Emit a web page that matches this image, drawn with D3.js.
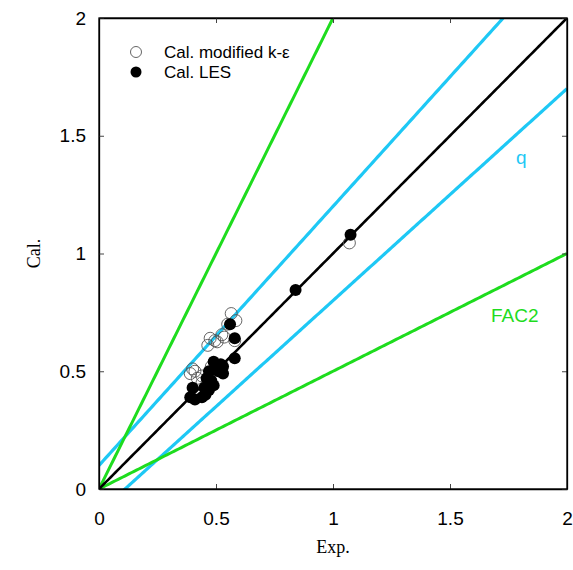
<!DOCTYPE html>
<html><head><meta charset="utf-8">
<script src="https://cdn.jsdelivr.net/npm/d3@7"></script>
<style>body{margin:0;background:#fff}</style>
</head><body>
<svg id="c" width="573" height="570"></svg>
<script>
const xTicks = [0, 0.5, 1, 1.5, 2];
const yTicks = [0, 0.5, 1, 1.5, 2];
const tickLabels = ["0", "0.5", "1", "1.5", "2"];
// Cal. modified k-ε (open circles): [Exp, Cal]
const kepsExp = [1.07, 0.565, 0.585, 0.55, 0.475, 0.505, 0.525, 0.535, 0.465, 0.495, 0.40, 0.39, 0.41, 0.42, 0.44, 0.58, 0.44, 0.48];
const kepsCal = [1.045, 0.745, 0.715, 0.70, 0.64, 0.625, 0.655, 0.645, 0.61, 0.63, 0.51, 0.49, 0.50, 0.47, 0.45, 0.63, 0.48, 0.52];
// Cal. LES (filled circles)
const lesExp = [1.075, 0.84, 0.56, 0.58, 0.58, 0.53, 0.53, 0.49, 0.50, 0.47, 0.46, 0.48, 0.49, 0.45, 0.44, 0.40, 0.39, 0.41, 0.51, 0.47, 0.455, 0.52];
const lesCal = [1.08, 0.845, 0.70, 0.64, 0.555, 0.52, 0.49, 0.54, 0.52, 0.50, 0.47, 0.46, 0.44, 0.43, 0.39, 0.43, 0.39, 0.38, 0.50, 0.42, 0.40, 0.53];
// reference lines: slope, intercept
const refLines = [
  {name: "q+", slope: 1.1, icpt: 0.1, color: "#1ec8f5", w: 3.2},
  {name: "q-", slope: 0.9, icpt: -0.1, color: "#1ec8f5", w: 3.2},
  {name: "FAC2+", slope: 2, icpt: 0, color: "#1edc1e", w: 3},
  {name: "FAC2-", slope: 0.5, icpt: 0, color: "#1edc1e", w: 3},
  {name: "1:1", slope: 1, icpt: 0, color: "#000", w: 2.6}
];

const svg = d3.select("#c");
const L = 99, R = 567, T = 18, B = 489;
const x = d3.scaleLinear().domain([0, 2]).range([L, R]);
const y = d3.scaleLinear().domain([0, 2]).range([B, T]);

svg.append("defs").append("clipPath").attr("id", "pa")
  .append("rect").attr("x", L).attr("y", T).attr("width", R - L).attr("height", B - T);

const g = svg.append("g").attr("clip-path", "url(#pa)");
const xs = d3.range(0, 2.0001, 0.01);
refLines.forEach(l => {
  g.append("path")
    .attr("d", d3.line().x(d => x(d)).y(d => y(l.slope * d + l.icpt))(xs))
    .attr("fill", "none").attr("stroke", l.color).attr("stroke-width", l.w);
});

const r = 6;
kepsExp.forEach((e, i) => {
  g.append("circle").attr("cx", x(e)).attr("cy", y(kepsCal[i])).attr("r", r)
    .attr("fill", "none").attr("stroke", "#555").attr("stroke-width", 0.9);
});
lesExp.forEach((e, i) => {
  g.append("circle").attr("cx", x(e)).attr("cy", y(lesCal[i])).attr("r", r)
    .attr("fill", "#000");
});

// axes with inward ticks
const tl = 5;
svg.append("g").attr("transform", `translate(0,${B})`)
  .call(d3.axisBottom(x).tickValues(xTicks).tickSizeInner(-tl).tickSizeOuter(0).tickFormat((d, i) => tickLabels[i]).tickPadding(23))
  .call(a => a.selectAll("text").attr("font-family", "Liberation Sans, Arial, sans-serif").attr("font-size", 19).attr("fill", "#000"));
svg.append("g").attr("transform", `translate(0,${T})`)
  .call(d3.axisTop(x).tickValues(xTicks).tickSizeInner(-tl).tickSizeOuter(0).tickFormat(""));
svg.append("g").attr("transform", `translate(${L},0)`)
  .call(d3.axisLeft(y).tickValues(yTicks).tickSizeInner(-tl).tickSizeOuter(0).tickFormat((d, i) => tickLabels[i]).tickPadding(13))
  .call(a => a.selectAll("text").attr("font-family", "Liberation Sans, Arial, sans-serif").attr("font-size", 19).attr("fill", "#000"));
svg.append("g").attr("transform", `translate(${R},0)`)
  .call(d3.axisRight(y).tickValues(yTicks).tickSizeInner(-tl).tickSizeOuter(0).tickFormat(""));
svg.selectAll(".domain").attr("stroke", "#000").attr("stroke-width", 1.3);
svg.selectAll(".tick line").attr("stroke", "#444");
svg.append("rect").attr("x", L).attr("y", T).attr("width", R - L).attr("height", B - T)
  .attr("fill", "none").attr("stroke", "#000").attr("stroke-width", 1.3);

// axis titles
svg.append("text").attr("x", (L + R) / 2).attr("y", 553).attr("text-anchor", "middle")
  .attr("font-family", "Liberation Serif, Times New Roman, serif").attr("font-size", 18).text("Exp.");
svg.append("text").attr("transform", `translate(40,${(T + B) / 2}) rotate(-90)`).attr("text-anchor", "middle")
  .attr("font-family", "Liberation Serif, Times New Roman, serif").attr("font-size", 18).text("Cal.");

// line labels
svg.append("text").attr("x", 516).attr("y", 164).attr("font-family", "Liberation Sans, Arial, sans-serif")
  .attr("font-size", 19).attr("fill", "#1ec8f5").text("q");
svg.append("text").attr("x", 491).attr("y", 322).attr("font-family", "Liberation Sans, Arial, sans-serif")
  .attr("font-size", 19).attr("fill", "#1edc1e").text("FAC2");

// legend
const leg = svg.append("g");
leg.append("circle").attr("cx", 136).attr("cy", 52).attr("r", 5.5).attr("fill", "none").attr("stroke", "#555").attr("stroke-width", 0.9);
leg.append("circle").attr("cx", 136).attr("cy", 72).attr("r", 5.5).attr("fill", "#000");
leg.append("text").attr("x", 164).attr("y", 58).attr("font-family", "Liberation Sans, Arial, sans-serif").attr("font-size", 17).text("Cal. modified k-ε");
leg.append("text").attr("x", 164).attr("y", 78).attr("font-family", "Liberation Sans, Arial, sans-serif").attr("font-size", 17).text("Cal. LES");
</script>
</body></html>
